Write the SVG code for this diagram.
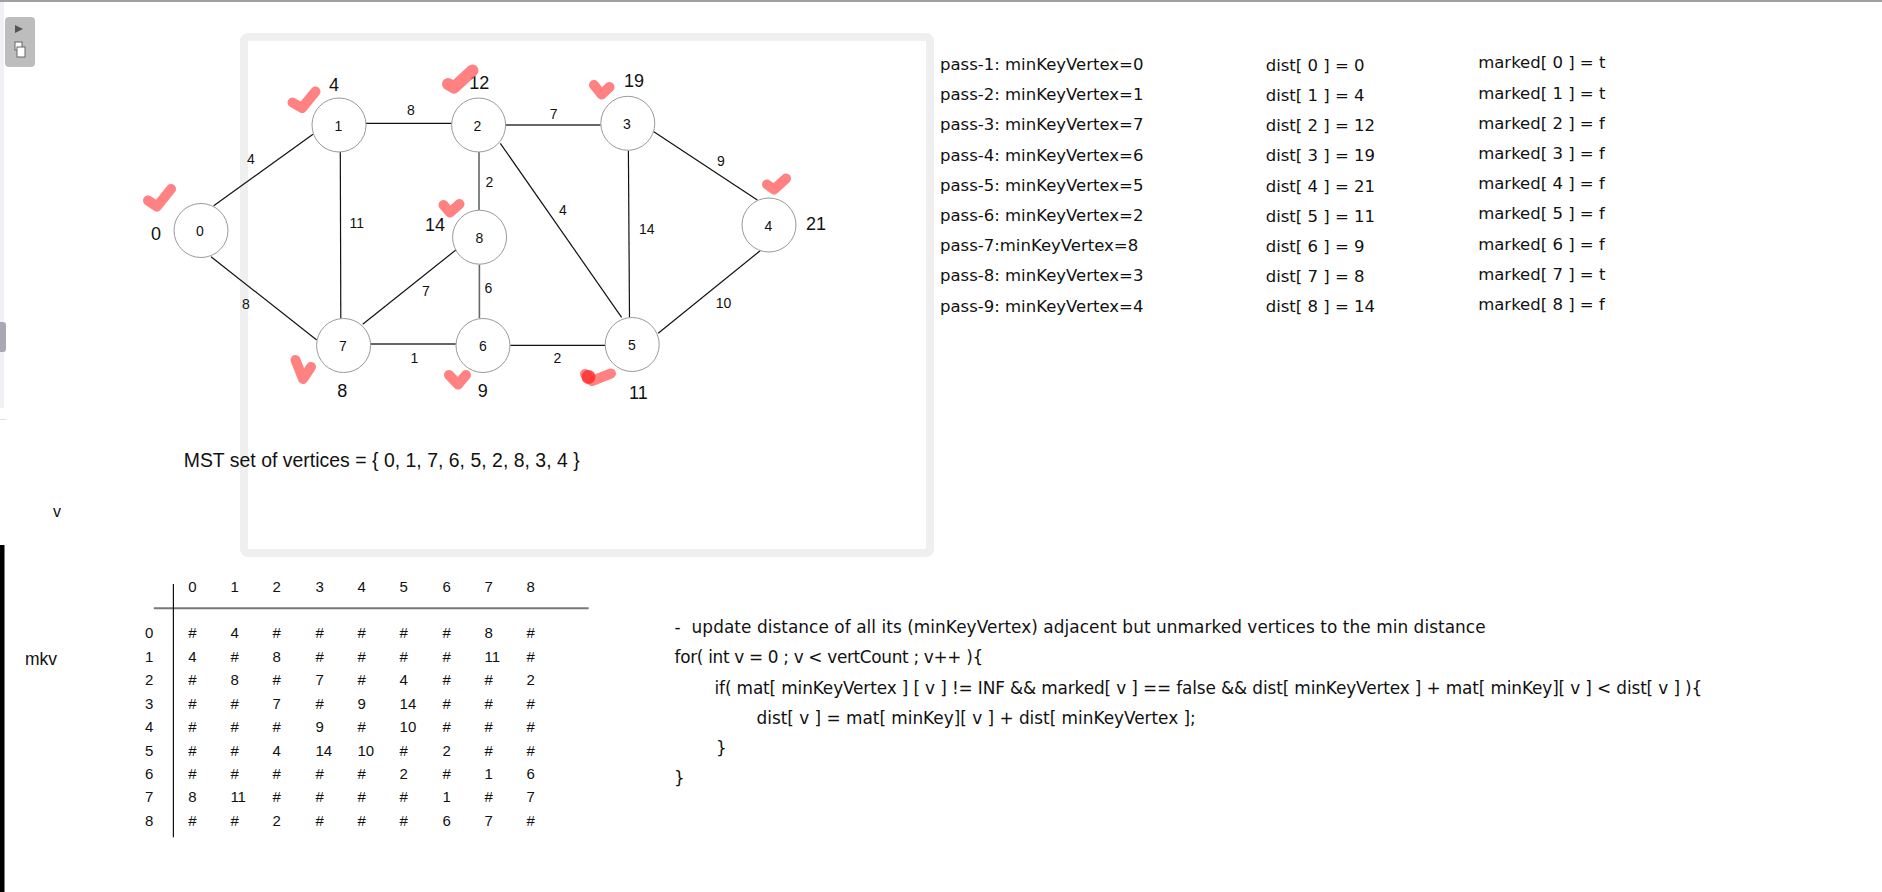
<svg xmlns="http://www.w3.org/2000/svg" width="1882" height="892" viewBox="0 0 1882 892">
<style>
.g{font-family:"Liberation Sans",Arial,sans-serif;fill:#111}
.dl{font-size:18px;text-anchor:middle}
.nl{font-size:14px;text-anchor:middle}
.el{font-size:14px;text-anchor:middle}
.rt{font-family:"DejaVu Sans",sans-serif;font-size:16.5px;fill:#111}
.cd{font-family:"DejaVu Sans",sans-serif;font-size:16.9px;fill:#111}
.mx{font-family:"Liberation Sans",Arial,sans-serif;font-size:15px;fill:#111}
.nc{fill:#fff;stroke:#999;stroke-width:1}
.edge{stroke:#111;stroke-width:1.2;fill:none}
.edge.gr{stroke:#666;stroke-width:2}
.ck{fill:none;stroke:#ff6b6b;stroke-opacity:0.85;stroke-width:10;stroke-linecap:round;stroke-linejoin:round}
.blob{fill:#ff3535;fill-opacity:0.9}
</style>
<rect width="1882" height="892" fill="#fff"/>
<!-- window chrome -->
<rect x="0" y="0" width="1882" height="2" fill="#a0a0a0"/>
<rect x="0" y="2" width="4" height="406" fill="#f1f1f5"/>
<rect x="0" y="419" width="6" height="1" fill="#e2e2e6"/>
<rect x="-4" y="322" width="10" height="30" rx="3" fill="#a9a9b1"/>
<rect x="5" y="17" width="30" height="50" rx="4" fill="#bdbdbd"/>
<path d="M15 25 L23 29 L15 33 Z" fill="#555"/>
<rect x="15" y="42" width="7" height="8" fill="#fff" stroke="#666" stroke-width="1"/>
<rect x="17" y="47" width="8" height="10" fill="#fff" stroke="#666" stroke-width="1"/>
<rect x="0" y="545" width="4.5" height="347" fill="#000"/>
<!-- frame -->
<rect x="244" y="37" width="686" height="516" rx="4" fill="none" stroke="#efefef" stroke-width="8"/>
<!-- connectors -->
<g id="edges">
<line class="edge" x1="213.7" y1="205.7" x2="313" y2="134.3"/>
<line class="edge" x1="211" y1="256.7" x2="316.7" y2="340"/>
<line class="edge" x1="366" y1="123.3" x2="451.6" y2="123.3"/>
<line class="edge gr" x1="505.6" y1="125" x2="600.7" y2="125"/>
<line class="edge" x1="340.3" y1="152" x2="340.8" y2="318.3"/>
<line class="edge gr" x1="479" y1="152" x2="479" y2="210" style="stroke-width:1.6"/>
<line class="edge" x1="500.3" y1="143.3" x2="621.6" y2="317.3"/>
<line class="edge" x1="628.4" y1="150.7" x2="629.5" y2="317.3"/>
<line class="edge" x1="652.7" y1="131" x2="757.3" y2="200"/>
<line class="edge" x1="455.8" y1="250" x2="362.7" y2="324.3"/>
<line class="edge gr" x1="479.4" y1="264.5" x2="479.4" y2="318.3" style="stroke-width:1.6"/>
<line class="edge gr" x1="370.6" y1="344" x2="455.8" y2="344"/>
<line class="edge" x1="510.2" y1="345.3" x2="605" y2="345.3"/>
<line class="edge" x1="658.2" y1="333.3" x2="760.2" y2="250.7"/>
<g class="g el">
<text x="251" y="164">4</text>
<text x="246" y="308.7">8</text>
<text x="411" y="115">8</text>
<text x="553.6" y="119.3">7</text>
<text x="356.7" y="228.3">11</text>
<text x="489.3" y="187.3">2</text>
<text x="563" y="215">4</text>
<text x="646.7" y="233.5">14</text>
<text x="721" y="166.3">9</text>
<text x="426" y="296">7</text>
<text x="488.3" y="293.3">6</text>
<text x="723.6" y="308">10</text>
<text x="414.3" y="362.7">1</text>
<text x="557.3" y="363">2</text>
</g>
</g>
<!-- nodes -->
<g id="n0"><circle class="nc" cx="201" cy="230.5" r="27"/><text class="g nl" x="200" y="236">0</text><text class="g dl" x="156" y="239.5">0</text><path class="ck" d="M148 200.5 L157 206.5 L171 189"/></g>
<g id="n1"><circle class="nc" cx="339" cy="125" r="27"/><text class="g nl" x="338.5" y="130.5">1</text><text class="g dl" x="334" y="90.7">4</text><path class="ck" d="M292.5 102.5 L302 108 L315.5 91.5"/></g>
<g id="n2"><circle class="nc" cx="478.6" cy="125" r="27"/><text class="g nl" x="477.5" y="130.5">2</text><text class="g dl" x="479.3" y="88.8">12</text><path class="ck" d="M448 84 L454 87.5 L472.5 70.5" style="stroke-width:12"/></g>
<g id="n3"><circle class="nc" cx="627.8" cy="123.3" r="27"/><text class="g nl" x="627" y="129">3</text><text class="g dl" x="634" y="86.7">19</text><path class="ck" d="M594 85 L601.5 94.5 L609.5 87"/></g>
<g id="n4"><circle class="nc" cx="769" cy="225" r="27"/><text class="g nl" x="768.5" y="230.5">4</text><text class="g dl" x="816" y="229.5">21</text><path class="ck" d="M767 184.5 L774 189.5 L786 178.5"/></g>
<g id="n5"><circle class="nc" cx="632.2" cy="344.5" r="27"/><text class="g nl" x="632" y="350">5</text><text class="g dl" x="638.3" y="399.3">11</text><path class="ck" d="M585 374 L592 381 L611 373.5"/><circle class="blob" cx="588.5" cy="377" r="7"/></g>
<g id="n6"><circle class="nc" cx="483" cy="345.5" r="27"/><text class="g nl" x="483" y="351">6</text><text class="g dl" x="482.7" y="396.7">9</text><path class="ck" d="M449 375 L458 384.5 L466 375"/></g>
<g id="n7"><circle class="nc" cx="343.6" cy="345.5" r="27"/><text class="g nl" x="343" y="351">7</text><text class="g dl" x="342.3" y="396.7">8</text><path class="ck" d="M295.5 360 L303 379 L311 367"/></g>
<g id="n8"><circle class="nc" cx="479.6" cy="237.2" r="27"/><text class="g nl" x="479.5" y="242.7">8</text><text class="g dl" x="435" y="230.5">14</text><path class="ck" d="M443.5 205 L450 212.5 L459.5 204"/></g>
<text class="g" x="183.7" y="466.8" style="font-size:19.4px" textLength="396">MST set of vertices = { 0, 1, 7, 6, 5, 2, 8, 3, 4 }</text>
<!-- right-side tables -->
<g id="passes" class="rt">
<text x="940" y="70">pass-1: minKeyVertex=0</text>
<text x="940" y="100.2">pass-2: minKeyVertex=1</text>
<text x="940" y="130.4">pass-3: minKeyVertex=7</text>
<text x="940" y="160.6">pass-4: minKeyVertex=6</text>
<text x="940" y="190.8">pass-5: minKeyVertex=5</text>
<text x="940" y="221">pass-6: minKeyVertex=2</text>
<text x="940" y="251.2">pass-7:minKeyVertex=8</text>
<text x="940" y="281.4">pass-8: minKeyVertex=3</text>
<text x="940" y="311.6">pass-9: minKeyVertex=4</text>
</g>
<g id="dist" class="rt">
<text x="1265.7" y="70.7">dist[ 0 ] = 0</text>
<text x="1265.7" y="100.9">dist[ 1 ] = 4</text>
<text x="1265.7" y="131.1">dist[ 2 ] = 12</text>
<text x="1265.7" y="161.3">dist[ 3 ] = 19</text>
<text x="1265.7" y="191.5">dist[ 4 ] = 21</text>
<text x="1265.7" y="221.7">dist[ 5 ] = 11</text>
<text x="1265.7" y="251.9">dist[ 6 ] = 9</text>
<text x="1265.7" y="282.1">dist[ 7 ] = 8</text>
<text x="1265.7" y="312.3">dist[ 8 ] = 14</text>
</g>
<g id="marked" class="rt">
<text x="1478.2" y="68.3">marked[ 0 ] = t</text>
<text x="1478.2" y="98.5">marked[ 1 ] = t</text>
<text x="1478.2" y="128.7">marked[ 2 ] = f</text>
<text x="1478.2" y="158.9">marked[ 3 ] = f</text>
<text x="1478.2" y="189.1">marked[ 4 ] = f</text>
<text x="1478.2" y="219.3">marked[ 5 ] = f</text>
<text x="1478.2" y="249.5">marked[ 6 ] = f</text>
<text x="1478.2" y="279.7">marked[ 7 ] = t</text>
<text x="1478.2" y="309.9">marked[ 8 ] = f</text>
</g>
<!-- matrix -->
<text class="g" x="57" y="516.7" style="font-size:16px;text-anchor:middle">v</text>
<text class="g" x="24.9" y="665" style="font-size:17.5px">mkv</text>
<g id="matrix" class="mx">
<line x1="153.8" y1="608.3" x2="588.6" y2="608.3" stroke="#777" stroke-width="2"/>
<line x1="173.4" y1="584" x2="173.4" y2="837.3" stroke="#111" stroke-width="1.2"/>
<text y="592.3"><tspan x="188.3">0</tspan><tspan x="230.4">1</tspan><tspan x="272.5">2</tspan><tspan x="315.4">3</tspan><tspan x="357.5">4</tspan><tspan x="399.6">5</tspan><tspan x="442.4">6</tspan><tspan x="484.5">7</tspan><tspan x="526.6">8</tspan></text>
<text y="638.3"><tspan x="145.1">0</tspan><tspan x="188.3">#</tspan><tspan x="230.4">4</tspan><tspan x="272.5">#</tspan><tspan x="315.4">#</tspan><tspan x="357.5">#</tspan><tspan x="399.6">#</tspan><tspan x="442.4">#</tspan><tspan x="484.5">8</tspan><tspan x="526.6">#</tspan></text>
<text y="661.7"><tspan x="145.1">1</tspan><tspan x="188.3">4</tspan><tspan x="230.4">#</tspan><tspan x="272.5">8</tspan><tspan x="315.4">#</tspan><tspan x="357.5">#</tspan><tspan x="399.6">#</tspan><tspan x="442.4">#</tspan><tspan x="484.5">11</tspan><tspan x="526.6">#</tspan></text>
<text y="685.2"><tspan x="145.1">2</tspan><tspan x="188.3">#</tspan><tspan x="230.4">8</tspan><tspan x="272.5">#</tspan><tspan x="315.4">7</tspan><tspan x="357.5">#</tspan><tspan x="399.6">4</tspan><tspan x="442.4">#</tspan><tspan x="484.5">#</tspan><tspan x="526.6">2</tspan></text>
<text y="708.6"><tspan x="145.1">3</tspan><tspan x="188.3">#</tspan><tspan x="230.4">#</tspan><tspan x="272.5">7</tspan><tspan x="315.4">#</tspan><tspan x="357.5">9</tspan><tspan x="399.6">14</tspan><tspan x="442.4">#</tspan><tspan x="484.5">#</tspan><tspan x="526.6">#</tspan></text>
<text y="732"><tspan x="145.1">4</tspan><tspan x="188.3">#</tspan><tspan x="230.4">#</tspan><tspan x="272.5">#</tspan><tspan x="315.4">9</tspan><tspan x="357.5">#</tspan><tspan x="399.6">10</tspan><tspan x="442.4">#</tspan><tspan x="484.5">#</tspan><tspan x="526.6">#</tspan></text>
<text y="755.5"><tspan x="145.1">5</tspan><tspan x="188.3">#</tspan><tspan x="230.4">#</tspan><tspan x="272.5">4</tspan><tspan x="315.4">14</tspan><tspan x="357.5">10</tspan><tspan x="399.6">#</tspan><tspan x="442.4">2</tspan><tspan x="484.5">#</tspan><tspan x="526.6">#</tspan></text>
<text y="778.9"><tspan x="145.1">6</tspan><tspan x="188.3">#</tspan><tspan x="230.4">#</tspan><tspan x="272.5">#</tspan><tspan x="315.4">#</tspan><tspan x="357.5">#</tspan><tspan x="399.6">2</tspan><tspan x="442.4">#</tspan><tspan x="484.5">1</tspan><tspan x="526.6">6</tspan></text>
<text y="802.3"><tspan x="145.1">7</tspan><tspan x="188.3">8</tspan><tspan x="230.4">11</tspan><tspan x="272.5">#</tspan><tspan x="315.4">#</tspan><tspan x="357.5">#</tspan><tspan x="399.6">#</tspan><tspan x="442.4">1</tspan><tspan x="484.5">#</tspan><tspan x="526.6">7</tspan></text>
<text y="825.7"><tspan x="145.1">8</tspan><tspan x="188.3">#</tspan><tspan x="230.4">#</tspan><tspan x="272.5">2</tspan><tspan x="315.4">#</tspan><tspan x="357.5">#</tspan><tspan x="399.6">#</tspan><tspan x="442.4">6</tspan><tspan x="484.5">7</tspan><tspan x="526.6">#</tspan></text>
</g>
<!-- code -->
<g id="code" class="cd">
<text x="674.6" y="633.3" textLength="811">-&#160; update distance of all its (minKeyVertex) adjacent but unmarked vertices to the min distance</text>
<text x="674.6" y="663.3" textLength="308.6">for( int v = 0 ; v &lt; vertCount ; v++ ){</text>
<text x="714.5" y="693.5" textLength="987.8">if( mat[ minKeyVertex ] [ v ] != INF &amp;&amp; marked[ v ] == false &amp;&amp; dist[ minKeyVertex ] + mat[ minKey][ v ] &lt; dist[ v ] ){</text>
<text x="756.6" y="723.5" textLength="439.2">dist[ v ] = mat[ minKey][ v ] + dist[ minKeyVertex ];</text>
<text x="716" y="753.5">}</text>
<text x="674" y="783.5">}</text>
</g>
</svg>
